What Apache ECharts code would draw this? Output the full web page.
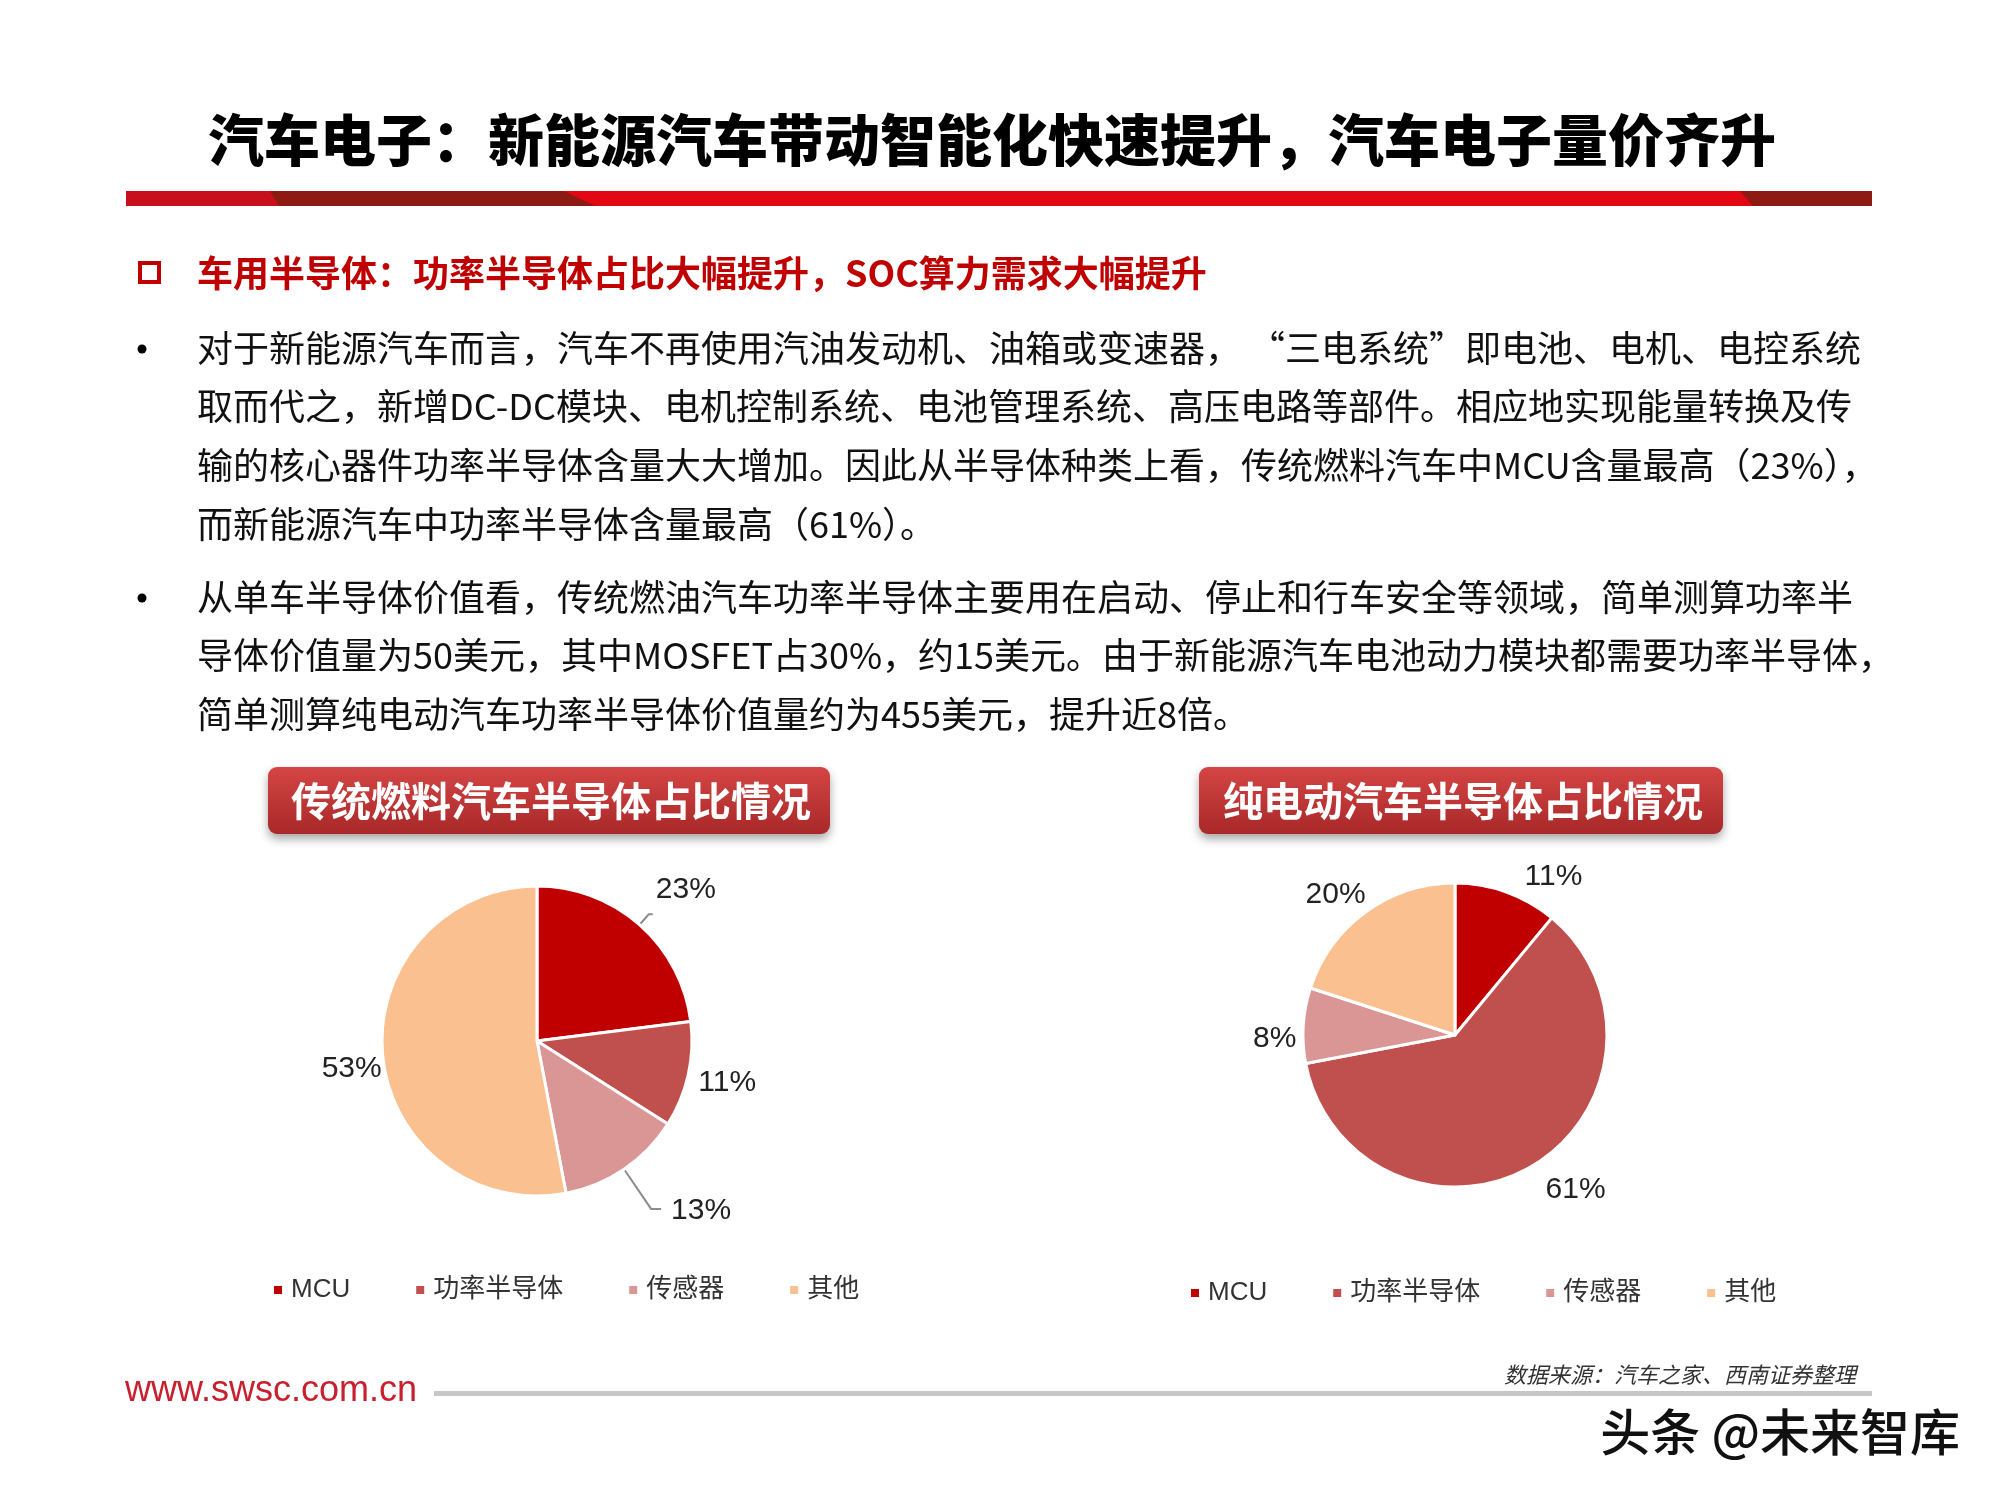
<!DOCTYPE html>
<html><head><meta charset="utf-8">
<script src="https://cdn.jsdelivr.net/npm/echarts@6/dist/echarts.min.js"></script>
<style>html,body{margin:0;padding:0;background:#fff}#c{width:2000px;height:1500px}</style>
</head><body><div id="c"></div>
<script>
// ---------- data ----------
const categories = ['MCU', '功率半导体', '传感器', '其他'];
const fuelShares = [23, 11, 13, 53];
const evShares = [11, 61, 8, 20];

const pageTitle = '汽车电子：新能源汽车带动智能化快速提升，汽车电子量价齐升';
const subTitle = '车用半导体：功率半导体占比大幅提升，SOC算力需求大幅提升';
const para1 = [
  '对于新能源汽车而言，汽车不再使用汽油发动机、油箱或变速器， “三电系统”即电池、电机、电控系统',
  '取而代之，新增DC-DC模块、电机控制系统、电池管理系统、高压电路等部件。相应地实现能量转换及传',
  '输的核心器件功率半导体含量大大增加。因此从半导体种类上看，传统燃料汽车中MCU含量最高（23%），',
  '而新能源汽车中功率半导体含量最高（61%）。'
];
const para2 = [
  '从单车半导体价值看，传统燃油汽车功率半导体主要用在启动、停止和行车安全等领域，简单测算功率半',
  '导体价值量为50美元，其中MOSFET占30%，约15美元。由于新能源汽车电池动力模块都需要功率半导体，',
  '简单测算纯电动汽车功率半导体价值量约为455美元，提升近8倍。'
];
const fuelChartTitle = '传统燃料汽车半导体占比情况';
const evChartTitle = '纯电动汽车半导体占比情况';
const sourceNote = '数据来源：汽车之家、西南证券整理';
const siteUrl = 'www.swsc.com.cn';
const watermark = '头条 @未来智库';

// ---------- styles ----------
const sliceColors = ['#C00000', '#C0504D', '#D99694', '#FAC090'];
const CJK = '"Noto Sans CJK SC", "Microsoft YaHei", sans-serif';
const LAT = '"Liberation Sans", Arial, "Noto Sans CJK SC", sans-serif';

// per-slice label placement styles (leader line lengths / spacing / nudge)
const fuelLabelStyle = [
  { len: 14, len2: 4, dist: 3, dy: -24, line: true },
  { len: 0, len2: 0, dist: 10, dy: 8, line: false },
  { len: 48, len2: 10, dist: 10, dy: 2, line: true },
  { len: 0, len2: 0, dist: 1, dy: 13, line: false }
];
const evLabelStyle = [
  { len: 21, len2: 6, dist: 5, dy: 5, line: false },
  { len: 26, len2: 0, dist: 0, dy: 2, line: false },
  { len: 0, len2: 0, dist: 7, dy: 13, line: false },
  { len: 0, len2: 0, dist: 0, dy: -17, line: false }
];

function buildData(values, styles) {
  return categories.map((name, i) => ({
    name: name,
    value: values[i],
    itemStyle: { color: sliceColors[i] },
    label: { distanceToLabelLine: styles[i].dist },
    labelLine: { show: styles[i].line, length: styles[i].len, length2: styles[i].len2 }
  }));
}

function pieSeries(center, radius, values, styles) {
  return {
    type: 'pie',
    center: center,
    radius: radius,
    startAngle: 90,
    clockwise: true,
    avoidLabelOverlap: false,
    silent: true,
    emphasis: { disabled: true, scale: false },
    itemStyle: { borderColor: '#ffffff', borderWidth: 3 },
    label: {
      show: true,
      position: 'outside',
      formatter: '{c}%',
      color: '#222',
      fontSize: 30,
      fontFamily: LAT
    },
    labelLine: { lineStyle: { color: '#8c8c8c', width: 2 } },
    labelLayout: function (p) { return { dy: styles[p.dataIndex].dy }; },
    data: buildData(values, styles)
  };
}

function legendAt(left, top) {
  return {
    data: categories,
    left: left, top: top,
    orient: 'horizontal',
    padding: 0,
    icon: 'rect',
    itemWidth: 10, itemHeight: 10,
    itemGap: 64,
    selectedMode: false,
    textStyle: { fontSize: 26, color: '#333', fontFamily: LAT, padding: [0, 0, 0, 3] }
  };
}

function text(x, y, str, font, fill, align, extra) {
  return Object.assign({
    type: 'text', x: x, y: y, silent: true,
    style: {
      text: str, font: font, fill: fill,
      align: align || 'left', textAlign: align || 'left',
      verticalAlign: 'middle', textVerticalAlign: 'middle'
    }
  }, extra || {});
}

const graphics = [];
// page title
graphics.push(text(992, 140, pageTitle, '900 56px ' + CJK, '#000', 'center'));
// red bar
graphics.push({ type: 'rect', shape: { x: 126, y: 191, width: 1746, height: 15 }, style: { fill: '#E30613' }, silent: true });
graphics.push({ type: 'polygon', shape: { points: [[126, 191], [270, 191], [279, 206], [126, 206]] }, style: { fill: '#C8101C' }, silent: true });
graphics.push({ type: 'polygon', shape: { points: [[270, 191], [564, 191], [595, 206], [279, 206]] }, style: { fill: '#8E1A14' }, silent: true });
graphics.push({ type: 'polygon', shape: { points: [[1740, 191], [1872, 191], [1872, 206], [1753, 206]] }, style: { fill: '#8E1A14' }, silent: true });
// subtitle
graphics.push({ type: 'rect', shape: { x: 140, y: 263, width: 19, height: 19 }, style: { fill: 'none', stroke: '#C00000', lineWidth: 4 }, silent: true });
graphics.push(text(197, 273, subTitle, 'bold 36px ' + CJK, '#C00000'));
// paragraphs
const lineGap = 58.7;
graphics.push({ type: 'circle', shape: { cx: 142, cy: 349, r: 4.5 }, style: { fill: '#000' }, silent: true });
para1.forEach((s, i) => graphics.push(text(197, 348 + i * lineGap, s, '36px ' + CJK, '#111')));
graphics.push({ type: 'circle', shape: { cx: 142, cy: 598, r: 4.5 }, style: { fill: '#000' }, silent: true });
para2.forEach((s, i) => graphics.push(text(197, 597 + i * lineGap, s, '36px ' + CJK, '#111')));

// chart title boxes
function titleBox(x, w, label) {
  return {
    type: 'group', silent: true,
    children: [
      {
        type: 'rect', shape: { x: x, y: 767, width: w, height: 67, r: 9 },
        style: {
          fill: new echarts.graphic.LinearGradient(0, 0, 0, 1, [
            { offset: 0, color: '#D54545' }, { offset: 1, color: '#A82828' }
          ]),
          shadowBlur: 10, shadowColor: 'rgba(0,0,0,0.35)', shadowOffsetY: 5
        }
      },
      text(x + w / 2 + 2, 801, label, 'bold 40px ' + CJK, '#fff', 'center')
    ]
  };
}
graphics.push(titleBox(268, 562, fuelChartTitle));
graphics.push(titleBox(1199, 524, evChartTitle));

// footer
graphics.push(text(125, 1391, siteUrl, '36px "Liberation Sans", Arial, sans-serif', '#C8202E'));
graphics.push({ type: 'rect', shape: { x: 434, y: 1391, width: 1438, height: 5 }, style: { fill: '#C6C6C6' }, silent: true });
graphics.push(text(1856, 1375, sourceNote, 'italic 22px ' + CJK, '#333', 'right'));
graphics.push(text(1960, 1432, watermark, '500 50px ' + CJK, '#111', 'right'));

const chart = echarts.init(document.getElementById('c'), null, { renderer: 'canvas', width: 2000, height: 1500 });
chart.setOption({
  backgroundColor: '#ffffff',
  animation: false,
  color: sliceColors,
  legend: [legendAt(272, 1277), legendAt(1189, 1280)],
  series: [
    pieSeries([537, 1041], 155, fuelShares, fuelLabelStyle),
    pieSeries([1455, 1035], 152, evShares, evLabelStyle)
  ],
  graphic: { elements: graphics }
});
</script>
</body></html>
